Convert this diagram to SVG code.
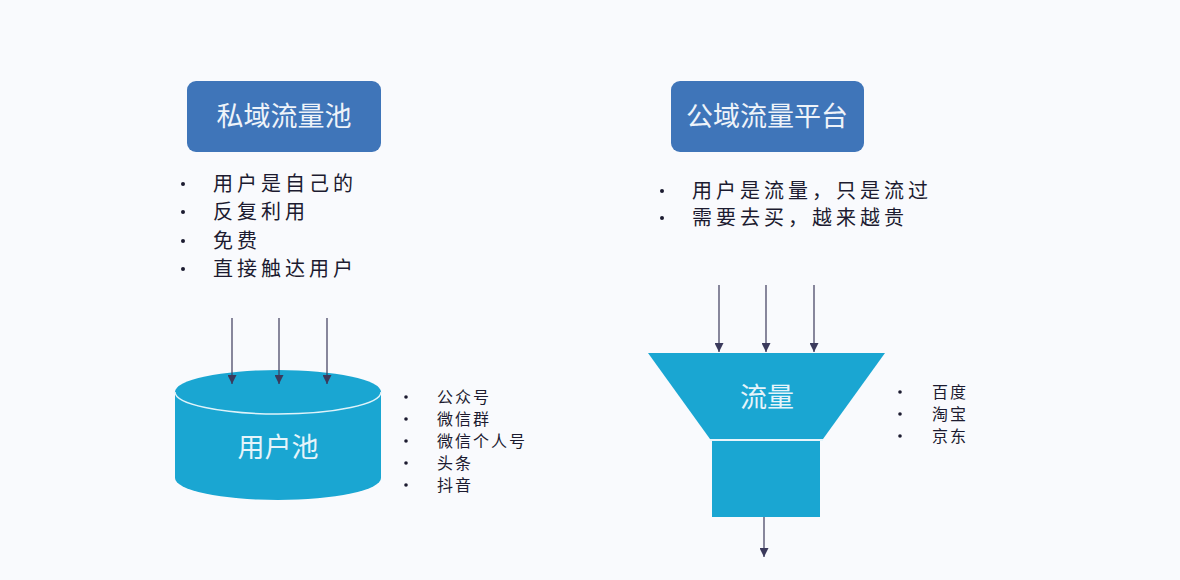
<svg xmlns="http://www.w3.org/2000/svg" width="1180" height="580" viewBox="0 0 1180 580">
<defs>
<marker id="ah" viewBox="0 0 10 10" refX="10" refY="5" markerWidth="9" markerHeight="9" markerUnits="userSpaceOnUse" orient="auto">
<path d="M0,0 L10,5 L0,10 Z" fill="#3b3a5c"/>
</marker>
<style>
.title{fill:#3f75b9}
.tt{font-family:"Noto Sans CJK SC","Noto Sans",sans-serif;fill:#eef3f9;text-anchor:middle;font-size:27px}
.b{font-family:"Noto Sans CJK SC","Noto Sans",sans-serif;fill:#1c1b30;font-size:20px;letter-spacing:4px}
.s{font-family:"Noto Sans CJK SC","Noto Sans",sans-serif;fill:#1c1b30;font-size:16px;letter-spacing:2px}
.dot{fill:#1c1b30}
.shape{fill:#1aa6d2}
.lbl{font-family:"Noto Sans CJK SC","Noto Sans",sans-serif;fill:#e6f4fa;text-anchor:middle;font-size:27px}
.conn{stroke:#3b3a5c;stroke-width:1.2;fill:none}
</style>
</defs>
<rect width="1180" height="580" fill="#f9fafd"/>

<g id="private-title">
<rect class="title" x="187" y="81" width="194" height="71" rx="9"/>
<text class="tt" x="284" y="126">私域流量池</text>
</g>

<g id="private-list">
<circle class="dot" cx="183" cy="184" r="2"/>
<circle class="dot" cx="183" cy="212" r="2"/>
<circle class="dot" cx="183" cy="241" r="2"/>
<circle class="dot" cx="183" cy="269" r="2"/>
<text class="b" x="213" y="191">用户是自己的</text>
<text class="b" x="213" y="219">反复利用</text>
<text class="b" x="213" y="248">免费</text>
<text class="b" x="213" y="276">直接触达用户</text>
</g>

<g id="public-title">
<rect class="title" x="671" y="81" width="193" height="71" rx="9"/>
<text class="tt" x="767" y="126">公域流量平台</text>
</g>

<g id="public-list">
<circle class="dot" cx="662" cy="191" r="2"/>
<circle class="dot" cx="662" cy="218" r="2"/>
<text class="b" x="692" y="198">用户是流量，只是流过</text>
<text class="b" x="692" y="225">需要去买，越来越贵</text>
</g>

<g id="user-pool">
<path class="shape" d="M175,392 L175,478 A103,22 0 0 0 381,478 L381,392 Z"/>
<ellipse class="shape" cx="278" cy="392" rx="103" ry="22"/>
<path d="M175,392 A103,22 0 0 0 381,392" fill="none" stroke="#dff3fa" stroke-width="1.5"/>
<text class="lbl" x="278" y="457" font-size="29">用户池</text>
</g>

<g id="pool-list">
<circle class="dot" cx="406" cy="397" r="1.8"/>
<circle class="dot" cx="406" cy="419" r="1.8"/>
<circle class="dot" cx="406" cy="441" r="1.8"/>
<circle class="dot" cx="406" cy="463" r="1.8"/>
<circle class="dot" cx="406" cy="485" r="1.8"/>
<text class="s" x="437" y="403">公众号</text>
<text class="s" x="437" y="425">微信群</text>
<text class="s" x="437" y="447">微信个人号</text>
<text class="s" x="437" y="469">头条</text>
<text class="s" x="437" y="491">抖音</text>
</g>

<g id="funnel">
<polygon class="shape" points="648,353 885,353 823,439 710,439"/>
<rect class="shape" x="712" y="441" width="108" height="76"/>
<line x1="710" y1="440" x2="823" y2="440" stroke="#dff3fa" stroke-width="1.5"/>
<text class="lbl" x="767" y="407">流量</text>
</g>

<g id="funnel-list">
<circle class="dot" cx="900" cy="392" r="1.8"/>
<circle class="dot" cx="900" cy="414" r="1.8"/>
<circle class="dot" cx="900" cy="436" r="1.8"/>
<text class="s" x="932" y="398">百度</text>
<text class="s" x="932" y="420">淘宝</text>
<text class="s" x="932" y="442">京东</text>
</g>

<g id="connectors">
<line class="conn" x1="232" y1="318" x2="232" y2="384" marker-end="url(#ah)"/>
<line class="conn" x1="279" y1="318" x2="279" y2="384" marker-end="url(#ah)"/>
<line class="conn" x1="327" y1="318" x2="327" y2="384" marker-end="url(#ah)"/>
<line class="conn" x1="719" y1="285" x2="719" y2="352" marker-end="url(#ah)"/>
<line class="conn" x1="766" y1="285" x2="766" y2="352" marker-end="url(#ah)"/>
<line class="conn" x1="814" y1="285" x2="814" y2="352" marker-end="url(#ah)"/>
<line class="conn" x1="764" y1="517" x2="764" y2="557" marker-end="url(#ah)"/>
</g>
</svg>
